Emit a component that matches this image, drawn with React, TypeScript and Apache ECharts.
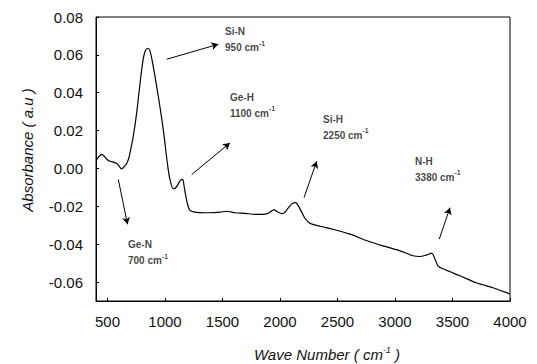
import React, { useEffect, useRef } from "react";
import * as echarts from "echarts";

// Spectrum (wavenumber cm-1, absorbance a.u.)
const waveNumbers = [406, 426, 450, 470, 496, 522, 548, 580, 600, 623, 643, 667, 687, 696, 724, 754, 783, 811, 830, 850, 870, 898, 942, 985, 1020, 1043, 1072, 1091, 1113, 1135, 1154, 1165, 1178, 1196, 1217, 1261, 1304, 1391, 1478, 1539, 1609, 1696, 1783, 1844, 1896, 1922, 1951, 1978, 2015, 2043, 2070, 2104, 2137, 2157, 2183, 2217, 2261, 2348, 2461, 2609, 2757, 2896, 3043, 3157, 3217, 3278, 3319, 3348, 3374, 3417, 3565, 3713, 3852, 4000];
const absorbance = [0.0047, 0.0063, 0.0074, 0.0066, 0.0047, 0.0038, 0.0034, 0.0026, 0.0013, -0.0002, 0.0008, 0.0026, 0.0058, 0.0084, 0.017, 0.0295, 0.045, 0.058, 0.0623, 0.0635, 0.062, 0.0538, 0.038, 0.0205, 0.003, -0.0058, -0.0107, -0.0103, -0.0084, -0.0063, -0.0058, -0.009, -0.0137, -0.0189, -0.0221, -0.0231, -0.0233, -0.0234, -0.0231, -0.0226, -0.0234, -0.0237, -0.0242, -0.0242, -0.0237, -0.0226, -0.0219, -0.0229, -0.0238, -0.0231, -0.021, -0.0187, -0.018, -0.0195, -0.0224, -0.0263, -0.029, -0.0305, -0.0321, -0.0347, -0.0382, -0.0409, -0.0435, -0.0461, -0.0465, -0.0456, -0.0447, -0.0479, -0.0514, -0.053, -0.0567, -0.0605, -0.063, -0.0663];

// Tick labels
const xTicks = [500, 1000, 1500, 2000, 2500, 3000, 3500, 4000];
const yTicks = [-0.06, -0.04, -0.02, 0.0, 0.02, 0.04, 0.06, 0.08];

// Annotations
const bandNames = ["Si-N", "Ge-H", "Si-H", "N-H", "Ge-N"];
const bandWaves = ["950", "1100", "2250", "3380", "700"];
const bandTextAt = [[1522, 0.0679], [1565, 0.0334], [2374, 0.0218], [3174, -0.0005], [678, -0.0444]];
const arrowFrom = [[1015, 0.0577], [1232, -0.0032], [2209, -0.0154], [3385, -0.0373], [594, -0.0058]];
const arrowTo = [[1464, 0.0656], [1565, 0.0135], [2319, 0.0038], [3478, -0.0207], [674, -0.0295]];

export default function App() {
  const ref = useRef<HTMLDivElement>(null);
  useEffect(() => {
    if (!ref.current) return;
    const chart = echarts.init(ref.current, null, { renderer: "svg" });
    const font = "'Liberation Sans', Arial, Helvetica, sans-serif";
    const spectrum = waveNumbers.map((w, i) => [w, absorbance[i]]);
    const labels = bandNames.map((n, i) => ({
      value: bandTextAt[i],
      name: n,
      wave: bandWaves[i],
    }));
    chart.setOption({
      animation: false,
      backgroundColor: "#fff",
      grid: {
        left: 96,
        right: 27,
        top: 17,
        bottom: 63,
        show: true,
        borderColor: "#000",
        borderWidth: 1,
        backgroundColor: "transparent",
      },
      xAxis: {
        type: "value",
        min: 400,
        max: 4000,
        axisLine: { show: true, onZero: false, lineStyle: { color: "#000", width: 1 } },
        axisTick: { show: true, inside: true, length: 3, customValues: xTicks, lineStyle: { color: "#000" } },
        axisLabel: {
          customValues: xTicks,
          color: "#111",
          fontSize: 15,
          fontFamily: font,
          margin: 13,
          formatter: (v: number) => String(v),
        },
        splitLine: { show: false },
      },
      yAxis: {
        type: "value",
        min: -0.07,
        max: 0.08,
        axisLine: { show: true, onZero: false, lineStyle: { color: "#000", width: 1 } },
        axisTick: { show: true, inside: true, length: 3, customValues: yTicks, lineStyle: { color: "#000" } },
        axisLabel: {
          customValues: yTicks,
          color: "#111",
          fontSize: 15,
          fontFamily: font,
          margin: 13,
          formatter: (v: number) => v.toFixed(2),
        },
        splitLine: { show: false },
      },
      series: [
        {
          type: "line",
          data: spectrum,
          smooth: 0.3,
          showSymbol: false,
          lineStyle: { color: "#000", width: 1.2 },
          markLine: {
            silent: true,
            symbol: ["none", "arrow"],
            symbolSize: [6, 7],
            label: { show: false },
            lineStyle: { color: "#000", width: 1, type: "solid" },
            data: arrowFrom.map((f, i) => [{ coord: f }, { coord: arrowTo[i] }]),
          },
        },
        {
          type: "scatter",
          data: labels,
          symbolSize: 0,
          silent: true,
          label: {
            show: true,
            position: "right",
            distance: 0,
            align: "left",
            verticalAlign: "middle",
            formatter: (p: any) => `{b|${p.data.name}}\n{b|${p.data.wave} cm}{s|-1}`,
            rich: {
              b: { fontSize: 10, fontWeight: "bold", color: "#111", fontFamily: font, lineHeight: 16 },
              s: { fontSize: 7, fontWeight: "bold", color: "#111", fontFamily: font, lineHeight: 16, verticalAlign: "top", padding: [0, 0, 6, 0] },
            },
          },
        },
      ],
      graphic: [
        {
          type: "text",
          x: 27,
          y: 150,
          rotation: Math.PI / 2,
          style: {
            text: "Absorbance ( a.u )",
            font: `italic 15px ${font}`,
            fill: "#111",
            align: "center",
            verticalAlign: "middle",
          },
        },
        {
          type: "text",
          x: 327,
          y: 354,
          style: {
            text: "Wave Number ( cm{s|-1} )",
            font: `italic 15px ${font}`,
            fill: "#111",
            align: "center",
            verticalAlign: "middle",
            rich: {
              s: { font: `italic 9px ${font}`, fill: "#111", verticalAlign: "top", padding: [0, 0, 8, 0] },
            },
          },
        },
      ],
    });
    return () => chart.dispose();
  }, []);
  return <div ref={ref} style={{ width: 537, height: 364, position: "absolute", left: 0, top: 0 }} />;
}
